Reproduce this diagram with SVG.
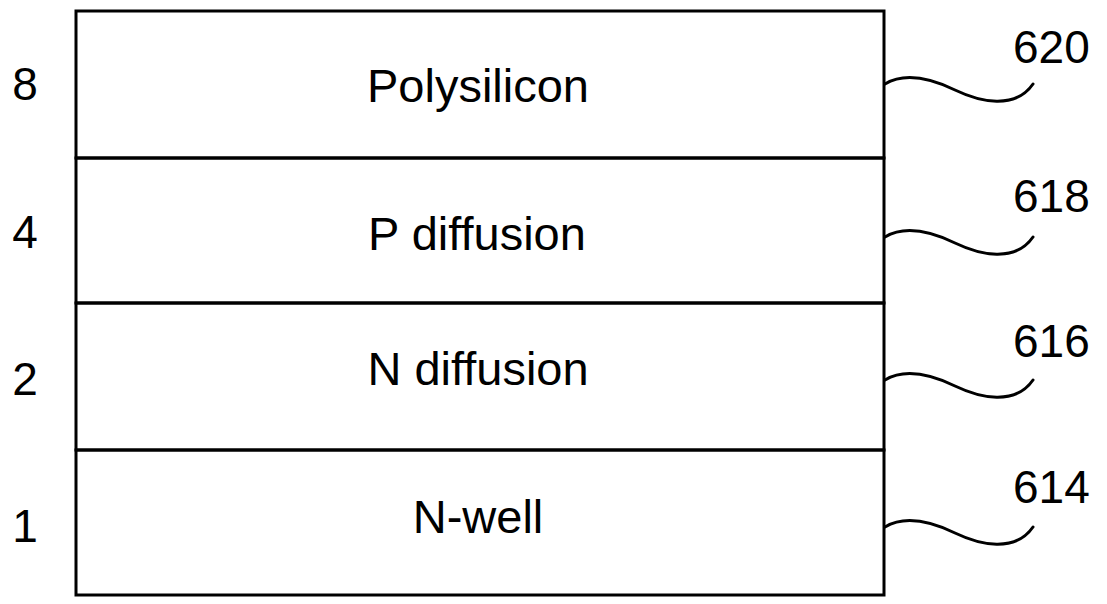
<svg xmlns="http://www.w3.org/2000/svg" width="1107" height="604" viewBox="0 0 1107 604">
<style>
.ln{fill:none;stroke:#000;stroke-width:3}
.sq{fill:none;stroke:#000;stroke-width:3;stroke-linecap:round}
.lbl{font-family:"Liberation Sans",Arial,sans-serif;font-size:47px;fill:#000;text-anchor:middle}
.num{font-family:"Liberation Sans",Arial,sans-serif;font-size:46px;fill:#000}
</style>
<defs>
<path id="squig" class="sq" d="M0,0 C20,-12 45,-6 70,6 C95,18 130,26 148,0"/>
</defs>
<rect width="1107" height="604" fill="#fff"/>
<g id="layer-620">
<rect class="ln" x="76" y="11" width="808" height="147"/>
<text class="lbl" x="478" y="102">Polysilicon</text>
<text class="num" x="25" y="100" text-anchor="middle">8</text>
</g>
<g id="layer-618">
<rect class="ln" x="76" y="158" width="808" height="145"/>
<text class="lbl" x="477" y="250">P diffusion</text>
<text class="num" x="25" y="248" text-anchor="middle">4</text>
</g>
<g id="layer-616">
<rect class="ln" x="76" y="303" width="808" height="147"/>
<text class="lbl" x="478" y="385">N diffusion</text>
<text class="num" x="25" y="395" text-anchor="middle">2</text>
</g>
<g id="layer-614">
<rect class="ln" x="76" y="450" width="808" height="145"/>
<text class="lbl" x="478" y="533">N-well</text>
<text class="num" x="25" y="542" text-anchor="middle">1</text>
</g>
<g id="connectors">
<use href="#squig" x="885" y="84"/>
<use href="#squig" x="885" y="237"/>
<use href="#squig" x="885" y="380"/>
<use href="#squig" x="885" y="527"/>
</g>
<g id="refs">
<text class="num" x="1013" y="63">620</text>
<text class="num" x="1013" y="212">618</text>
<text class="num" x="1013" y="357">616</text>
<text class="num" x="1013" y="503">614</text>
</g>
</svg>
